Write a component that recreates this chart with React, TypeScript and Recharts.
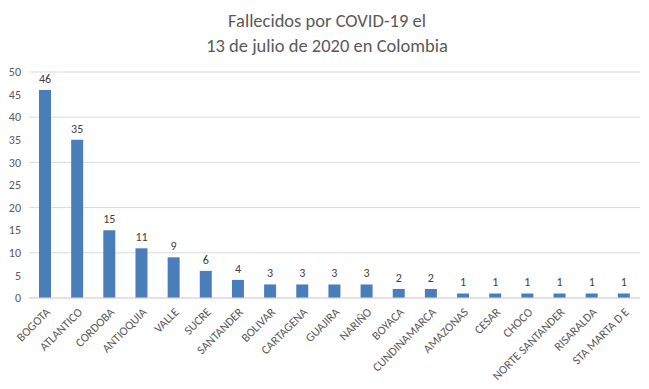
import { BarChart, Bar, XAxis, YAxis, CartesianGrid, LabelList } from "recharts";

const departamentos = [
  "BOGOTA", "ATLANTICO", "CORDOBA", "ANTIOQUIA", "VALLE", "SUCRE", "SANTANDER",
  "BOLIVAR", "CARTAGENA", "GUAJIRA", "NARIÑO", "BOYACA", "CUNDINAMARCA",
  "AMAZONAS", "CESAR", "CHOCO", "NORTE SANTANDER", "RISARALDA", "STA MARTA D E",
];
const fallecidos = [46, 35, 15, 11, 9, 6, 4, 3, 3, 3, 3, 2, 2, 1, 1, 1, 1, 1, 1];
const yTicks = [0, 5, 10, 15, 20, 25, 30, 35, 40, 45, 50];

const data = departamentos.map((name, i) => ({ name, value: fallecidos[i] }));

const FONT = "Carlito, Calibri, 'Open Sans', 'Liberation Sans', sans-serif";

function AngledTick(props: any) {
  const { x, y, payload } = props;
  return (
    <g transform={`translate(${x + 3},${y + 4})`}>
      <text
        x={0}
        y={0}
        dy={4}
        textAnchor="end"
        transform="rotate(-45)"
        fill="#595959"
        fontSize={12}
        fontFamily={FONT}
      >
        {payload.value}
      </text>
    </g>
  );
}

export default function App() {
  return (
    <div
      style={{
        margin: -8,
        width: 647,
        height: 387,
        border: "1px solid #d9d9d9",
        position: "relative",
        background: "#fff",
        fontFamily: FONT,
      }}
    >
      <div
        style={{
          position: "absolute",
          top: 7,
          left: 0,
          width: 652,
          textAlign: "center",
          color: "#595959",
          fontSize: 18.5,
          lineHeight: "25px",
        }}
      >
        Fallecidos por COVID-19 el
        <br />
        13 de julio de 2020 en Colombia
      </div>
      <BarChart
        width={647}
        height={387}
        data={data}
        margin={{ top: 71, right: 8, bottom: 0, left: 0 }}
      >
        <CartesianGrid vertical={false} stroke="#d9d9d9" />
        <XAxis
          dataKey="name"
          interval={0}
          tick={<AngledTick />}
          tickLine={false}
          axisLine={{ stroke: "#d9d9d9" }}
          height={90}
        />
        <YAxis
          width={28}
          domain={[0, 50]}
          ticks={yTicks}
          tickLine={false}
          axisLine={false}
          tick={{ fill: "#595959", fontSize: 12, fontFamily: FONT }}
        />
        <Bar dataKey="value" fill="#4a7ebb" barSize={12} isAnimationActive={false}>
          <LabelList
            dataKey="value"
            position="top"
            offset={7}
            fill="#404040"
            fontSize={12}
            fontFamily={FONT}
          />
        </Bar>
      </BarChart>
    </div>
  );
}
